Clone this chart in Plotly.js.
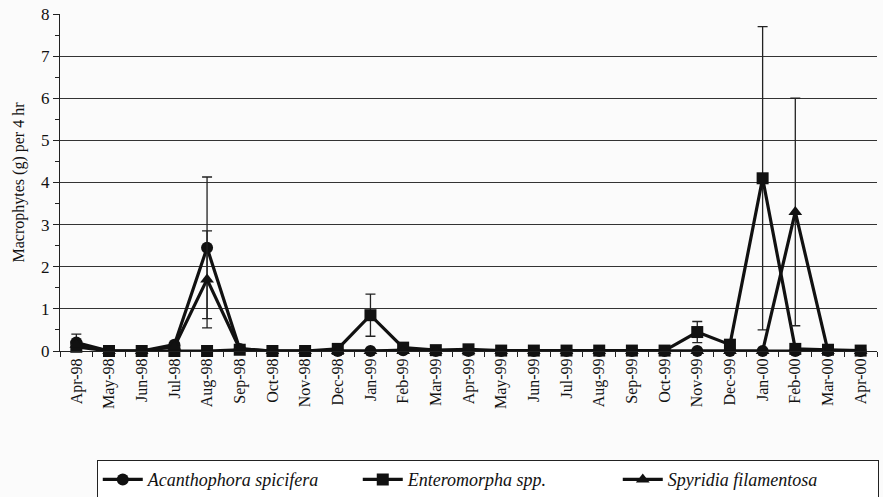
<!DOCTYPE html>
<html><head><meta charset="utf-8">
<script src="https://cdn.plot.ly/plotly-3.0.1.min.js"></script>
<style>body{margin:0;background:#fff}#c{width:883px;height:497px}</style>
</head><body><div id="c"></div>
<script>
const months = ["Apr-98","May-98","Jun-98","Jul-98","Aug-98","Sep-98","Oct-98","Nov-98","Dec-98","Jan-99","Feb-99","Mar-99","Apr-99","May-99","Jun-99","Jul-99","Aug-99","Sep-99","Oct-99","Nov-99","Dec-99","Jan-00","Feb-00","Mar-00","Apr-00"];
const acanthophora = [0.2,0,0,0.15,2.45,0.05,0,0,0,0,0.02,0,0,0,0,0,0,0,0,0,0,0,0,0,0];
const acanthophoraErr = [0.2,0,0,0,1.68,0,0,0,0,0,0,0,0,0,0,0,0,0,0,0,0,0,0,0,0];
const enteromorpha = [0.1,0,0,0,0,0.03,0,0,0.05,0.85,0.08,0.02,0.04,0.01,0.01,0.01,0.01,0.01,0.01,0.45,0.15,4.1,0.05,0.03,0.01];
const enteromorphaErr = [0,0,0,0,0,0,0,0,0,0.5,0,0,0,0,0,0,0,0,0,0.25,0,3.6,0,0,0];
const spyridia = [0.15,0,0,0.1,1.7,0.05,0,0,0,0,0,0,0,0,0,0,0,0,0,0,0,0,3.3,0,0];
const spyridiaErr = [0,0,0,0,1.15,0,0,0,0,0,0,0,0,0,0,0,0,0,0,0,0,0,2.7,0,0];
const names = ["Acanthophora spicifera","Enteromorpha spp.","Spyridia filamentosa"];

function tr(y, err, name, sym){
  return {x: months, y: y, name: name, type:'scatter', mode:'lines+markers',
    line:{color:'#111', width:3.2},
    marker:{symbol:sym, size:12, color:'#111'},
    error_y:{type:'data', array:err, visible:true, color:'#222', thickness:1.3, width:5},
    cliponaxis:false};
}
const data = [
  tr(acanthophora, acanthophoraErr, names[0], 'circle'),
  tr(enteromorpha, enteromorphaErr, names[1], 'square'),
  tr(spyridia, spyridiaErr, names[2], 'triangle-up')
];
const serif = "'Liberation Serif', 'Times New Roman', serif";
const layout = {
  width:883, height:497,
  margin:{l:60, r:6, t:14, b:146},
  paper_bgcolor:'#fbfbfb', plot_bgcolor:'#fbfbfb',
  font:{family:serif, color:'#111', size:15},
  showlegend:true,
  legend:{orientation:'h', x:0.045, xanchor:'left', yref:'container', y:0.074, yanchor:'top',
    bordercolor:'#222', borderwidth:1, bgcolor:'#fff', tracegroupgap:0,
    font:{family:serif, size:18, style:'italic'}, entrywidth:205, entrywidthmode:'pixels', itemwidth:40},
  xaxis:{type:'category', range:[-0.5,24.5], tickangle:-90, showgrid:false, automargin:false,
    showline:true, linecolor:'#222', linewidth:1, ticks:'outside', ticklen:5, tickcolor:'#222',
    tickson:'boundaries', tickfont:{size:16, family:serif}, zeroline:false},
  yaxis:{range:[0,8], dtick:1, showgrid:true, gridcolor:'#333', gridwidth:1, automargin:false,
    showline:true, linecolor:'#222', linewidth:1, ticks:'outside', ticklen:6, tickcolor:'#222',
    minor:{dtick:0.5, ticks:'outside', ticklen:4, tickcolor:'#222', showgrid:false},
    tickfont:{size:17, family:serif}, zeroline:false,
    title:{text:'Macrophytes (g) per 4 hr', font:{size:16, family:serif}, standoff:12}}
};
Plotly.newPlot('c', data, layout, {displayModeBar:false, staticPlot:true});
</script></body></html>
